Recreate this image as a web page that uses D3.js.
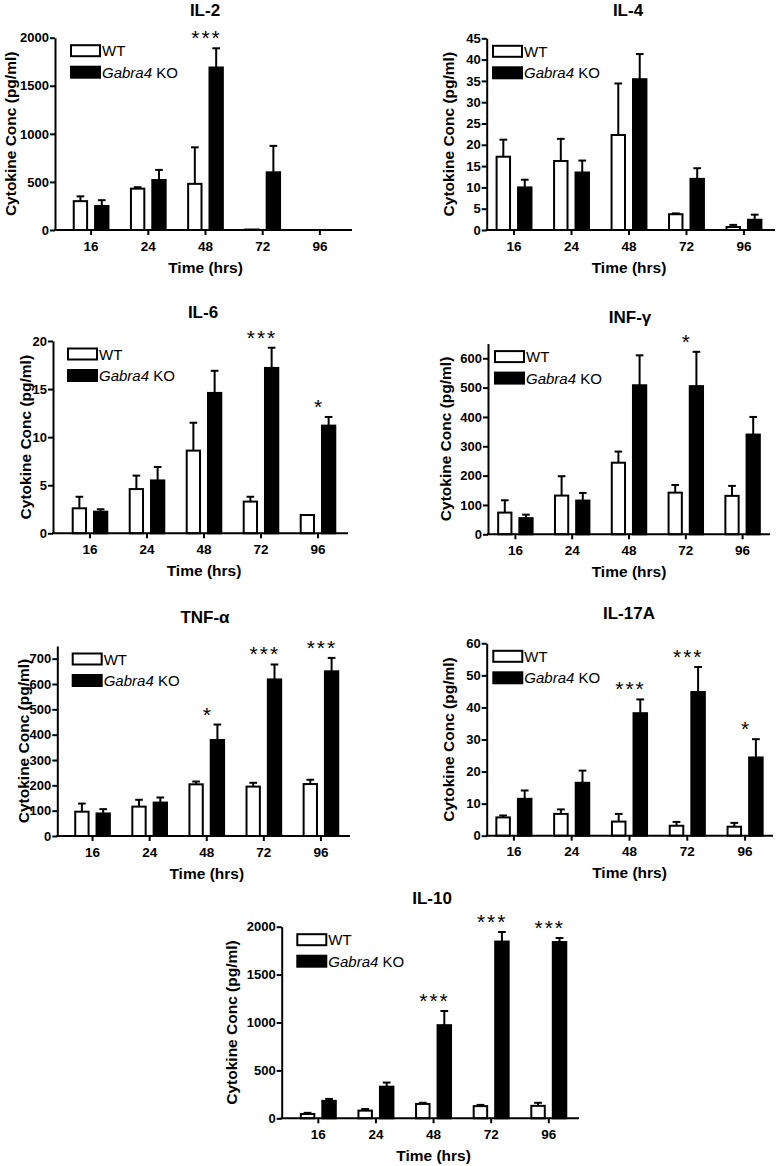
<!DOCTYPE html>
<html><head><meta charset="utf-8">
<script src="https://cdn.jsdelivr.net/npm/d3@7"></script>
<style>
html,body{margin:0;padding:0;background:#fff;}
svg text{font-family:'Liberation Sans',Arial,Helvetica,sans-serif;fill:#000;}
</style></head>
<body>
<svg id="chart" width="777" height="1166"></svg>
<script>
// ---------- DATA ----------
const categories = ["16","24","48","72","96"];
const groups = ["WT","KO"];
const titles = ["IL-2","IL-4","IL-6","INF-γ","TNF-α","IL-17A","IL-10"];
const xAxisTitle = "Time (hrs)";
const yAxisTitle = "Cytokine Conc (pg/ml)";

const il2WT = [300,430,480,5,0];        const il2WTSem = [50,15,380,0,0];
const il2KO = [250,520,1690,600,0];     const il2KOSem = [60,105,200,275,0];
const il2Stars = ["","","***","",""];
const il2Ticks = [0,500,1000,1500,2000];

const il4WT = [17.2,16.2,22.3,3.7,0.7]; const il4WTSem = [4.0,5.2,12.1,0.2,0.5];
const il4KO = [10,13.5,35.4,12,2.4];    const il4KOSem = [1.8,2.8,5.9,2.5,1.2];
const il4Stars = ["","","","",""];
const il4Ticks = [0,5,10,15,20,25,30,35,40,45];

const il6WT = [2.6,4.6,8.6,3.3,1.9];    const il6WTSem = [1.2,1.4,2.9,0.5,0];
const il6KO = [2.25,5.5,14.6,17.2,11.2];const il6KOSem = [0.25,1.4,2.3,2.1,0.9];
const il6Stars = ["","","","***","*"];
const il6Ticks = [0,5,10,15,20];

const infWT = [74,132,244,142,131];     const infWTSem = [42,66,38,26,34];
const infKO = [55,115,508,505,340];     const infKOSem = [12,26,102,117,60];
const infStars = ["","","","*",""];
const infTicks = [0,100,200,300,400,500,600];

const tnfWT = [96,116,204,195,205];     const tnfWTSem = [32,27,11,15,17];
const tnfKO = [89,132,379,618,650];     const tnfKOSem = [17,20,61,59,53];
const tnfStars = ["","","*","***","***"];
const tnfTicks = [0,100,200,300,400,500,600,700];

const il17WT = [5.7,6.8,4.4,3.1,2.8];   const il17WTSem = [0.6,1.4,2.4,1.2,1.2];
const il17KO = [11.5,16.5,38.2,44.8,24.4]; const il17KOSem = [2.6,3.8,4.3,7.8,5.7];
const il17Stars = ["","","***","***","*"];
const il17Ticks = [0,10,20,30,40,50,60];

const il10WT = [45,80,150,127,130];     const il10WTSem = [12,17,12,13,32];
const il10KO = [182,330,972,1845,1840]; const il10KOSem = [20,43,148,100,42];
const il10Stars = ["","","***","***","***"];
const il10Ticks = [0,500,1000,1500,2000];

// ---------- LAYOUT (positions only) ----------
const layout = [
 {ax:55,   end:352, y0:230,   yTop:37.7,  max:2000, band:[62.5,348.5], tx:205, ty:15.5,  ylx:10,    ldx:16},
 {ax:486.7,end:775, y0:230,   yTop:38.3,  max:45,   band:[485.3,772.7],tx:628, ty:15.5,  ylx:448,   ldx:6.3},
 {ax:53,   end:348, y0:533.3, yTop:341,   max:20,   band:[61.5,346.5], tx:203, ty:318.3, ylx:25,    ldx:15},
 {ax:488,  end:770, y0:534.3, yTop:343.6, max:650,  band:[487,771],    tx:630, ty:322.7, ylx:445,   ldx:7},
 {ax:57.3, end:350, y0:836,   yTop:646,   max:750,  band:[64,349.5],   tx:205, ty:622.7, ylx:23.3,  ldx:15.4},
 {ax:486.7,end:773, y0:835.7, yTop:643.3, max:60,   band:[485,774],    tx:629, ty:619.3, ylx:448.3, ldx:6.6},
 {ax:281.7,end:579, y0:1118.3,yTop:926.7, max:2000, band:[289.5,577.6],tx:432, ty:904.3, ylx:231.7, ldx:15.6}
];

const panelData = [
 {wt:il2WT, wtSem:il2WTSem, ko:il2KO, koSem:il2KOSem, stars:il2Stars, ticks:il2Ticks},
 {wt:il4WT, wtSem:il4WTSem, ko:il4KO, koSem:il4KOSem, stars:il4Stars, ticks:il4Ticks},
 {wt:il6WT, wtSem:il6WTSem, ko:il6KO, koSem:il6KOSem, stars:il6Stars, ticks:il6Ticks},
 {wt:infWT, wtSem:infWTSem, ko:infKO, koSem:infKOSem, stars:infStars, ticks:infTicks},
 {wt:tnfWT, wtSem:tnfWTSem, ko:tnfKO, koSem:tnfKOSem, stars:tnfStars, ticks:tnfTicks},
 {wt:il17WT, wtSem:il17WTSem, ko:il17KO, koSem:il17KOSem, stars:il17Stars, ticks:il17Ticks},
 {wt:il10WT, wtSem:il10WTSem, ko:il10KO, koSem:il10KOSem, stars:il10Stars, ticks:il10Ticks}
];

const svg = d3.select("#chart");
const SW = 2;

panelData.forEach((pd, i) => {
  const L = layout[i];
  const g = svg.append("g");
  const x0 = d3.scaleBand().domain(categories).range(L.band).padding(0);
  const x1 = d3.scaleBand().domain(groups).range([0, x0.bandwidth()]).paddingInner(0.28).paddingOuter(0.48);
  const y = d3.scaleLinear().domain([0, L.max]).range([L.y0, L.yTop]);

  const rows = categories.map((c, k) => ({
    c,
    vals: [
      {grp:"WT", v:pd.wt[k], sem:pd.wtSem[k]},
      {grp:"KO", v:pd.ko[k], sem:pd.koSem[k]}
    ],
    star: pd.stars[k]
  }));

  const cg = g.selectAll("g.cat").data(rows).enter().append("g")
    .attr("transform", d => `translate(${x0(d.c)},0)`);
  const capW = x1.bandwidth() * 0.5;
  cg.selectAll("line.err").data(d => d.vals.filter(v => v.sem > 0)).enter().append("line")
    .attr("x1", v => x1(v.grp) + x1.bandwidth()/2)
    .attr("x2", v => x1(v.grp) + x1.bandwidth()/2)
    .attr("y1", v => y(v.v)).attr("y2", v => y(v.v + v.sem))
    .attr("stroke", "#000").attr("stroke-width", SW);
  cg.selectAll("line.cap").data(d => d.vals.filter(v => v.sem > 0)).enter().append("line")
    .attr("x1", v => x1(v.grp) + x1.bandwidth()/2 - capW/2)
    .attr("x2", v => x1(v.grp) + x1.bandwidth()/2 + capW/2)
    .attr("y1", v => y(v.v + v.sem)).attr("y2", v => y(v.v + v.sem))
    .attr("stroke", "#000").attr("stroke-width", SW);
  cg.selectAll("rect").data(d => d.vals.filter(v => v.v > 0)).enter().append("rect")
    .attr("x", v => x1(v.grp) + SW/2)
    .attr("width", x1.bandwidth() - SW)
    .attr("y", v => y(v.v))
    .attr("height", v => y(0) - y(v.v))
    .attr("fill", v => v.grp === "WT" ? "#fff" : "#000")
    .attr("stroke", "#000").attr("stroke-width", SW);
  cg.filter(d => d.star).append("text")
    .attr("x", x0.bandwidth()/2 + 1)
    .attr("y", d => y(d.vals[1].v + d.vals[1].sem) - 3)
    .attr("text-anchor", "middle")
    .attr("font-size", 21).attr("letter-spacing", 2)
    .text(d => d.star);

  const yAx = g.append("g").attr("transform", `translate(${L.ax},0)`)
    .call(d3.axisLeft(y).tickValues(pd.ticks).tickFormat(d3.format("d")).tickSize(5).tickSizeOuter(0).tickPadding(1));
  yAx.select(".domain").attr("stroke-width", SW);
  yAx.selectAll(".tick line").attr("stroke-width", SW);
  yAx.selectAll(".tick text").attr("font-size", 13).attr("font-weight", "bold")
     .attr("font-family", "'Liberation Sans',Arial,sans-serif");

  const xAx = g.append("g").attr("transform", `translate(0,${L.y0})`)
    .call(d3.axisBottom(x0).tickSize(5).tickSizeOuter(0).tickPadding(6));
  xAx.select(".domain").remove();
  xAx.selectAll(".tick line").attr("stroke-width", SW);
  xAx.selectAll(".tick text").attr("font-size", 13.5).attr("font-weight", "bold")
     .attr("font-family", "'Liberation Sans',Arial,sans-serif");
  g.append("line").attr("x1", L.ax - 1).attr("x2", L.end)
    .attr("y1", L.y0).attr("y2", L.y0).attr("stroke", "#000").attr("stroke-width", SW);

  g.append("text").attr("x", L.tx).attr("y", L.ty).attr("text-anchor", "middle")
    .attr("font-size", 17).attr("font-weight", "bold").text(titles[i]);
  g.append("text").attr("x", (L.band[0] + L.band[1]) / 2).attr("y", L.y0 + 42.5)
    .attr("text-anchor", "middle").attr("font-size", 15.5).attr("font-weight", "bold").text(xAxisTitle);
  g.append("text").attr("transform", `translate(${L.ylx},${(L.y0 + L.yTop) / 2}) rotate(-90)`)
    .attr("text-anchor", "middle").attr("dominant-baseline", "central")
    .attr("font-size", 15.5).attr("font-weight", "bold").text(yAxisTitle);

  const lx = L.ax + L.ldx, ly = L.yTop + 7.5;
  const leg = g.append("g").attr("transform", `translate(${lx},${ly})`);
  groups.forEach((grp, k) => {
    leg.append("rect").attr("x", 0).attr("y", k * 21.5).attr("width", 29).attr("height", 11)
      .attr("fill", grp === "WT" ? "#fff" : "#000").attr("stroke", "#000").attr("stroke-width", SW);
    const t = leg.append("text").attr("x", 31).attr("y", k * 21.5 + 11).attr("font-size", 15);
    if (grp === "WT") t.text("WT");
    else { t.append("tspan").attr("font-style", "italic").text("Gabra4"); t.append("tspan").text(" KO"); }
  });
});
</script>
</body></html>
